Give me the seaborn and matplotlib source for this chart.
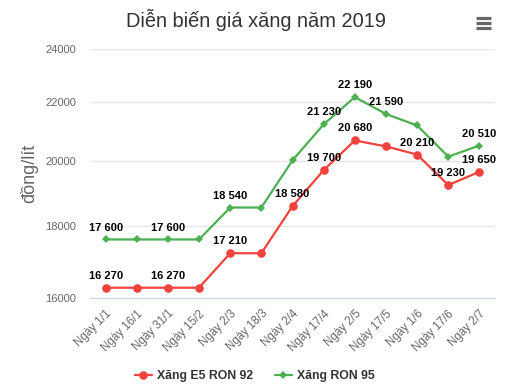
import numpy as np
import pandas as pd
import matplotlib
matplotlib.use("Agg")
import matplotlib.pyplot as plt
import seaborn as sns
from matplotlib.ticker import FixedLocator, FuncFormatter, NullLocator
from matplotlib.lines import Line2D

# --- data ---
dates = ["Ngày 1/1", "Ngày 16/1", "Ngày 31/1", "Ngày 15/2", "Ngày 2/3", "Ngày 18/3",
         "Ngày 2/4", "Ngày 17/4", "Ngày 2/5", "Ngày 17/5", "Ngày 1/6", "Ngày 17/6", "Ngày 2/7"]
e5_ron92 = [16270, 16270, 16270, 16270, 17210, 17210, 18580, 19700, 20680, 20480, 20210, 19230, 19650]
ron95 = [17600, 17600, 17600, 17600, 18540, 18540, 20020, 21230, 22190, 21590, 21190, 20140, 20510]
# which points carry a visible data label
e5_labelled = [0, 2, 4, 6, 7, 8, 10, 11, 12]
ron95_labelled = [0, 2, 4, 7, 8, 9, 12]

series_names = ["Xăng E5 RON 92", "Xăng RON 95"]
y_ticks = [16000, 18000, 20000, 22000, 24000]

colors = {series_names[0]: "#f2423c", series_names[1]: "#4caf50"}
markers = {series_names[0]: "o", series_names[1]: "D"}
msize = {series_names[0]: 6.2, series_names[1]: 4.3}

df = pd.DataFrame({
    "idx": list(range(len(dates))) * 2,
    "price": e5_ron92 + ron95,
    "series": [series_names[0]] * len(dates) + [series_names[1]] * len(dates),
})

sns.set_style("white")
plt.rcParams["font.family"] = ["Liberation Sans", "DejaVu Sans"]

fig = plt.figure(figsize=(5.11, 3.90), dpi=100)
ax = fig.add_axes([90 / 511, (390 - 298) / 390, (495 - 90) / 511, (298 - 49) / 390])

for name in series_names:
    sub = df[df["series"] == name]
    sns.lineplot(data=sub, x="idx", y="price", ax=ax, color=colors[name],
                 marker=markers[name], markersize=msize[name],
                 markeredgewidth=0, linewidth=1.6, label=name, legend=False)

ax.set_yscale("log")
ax.set_ylim(16000, 24000)
ax.set_xlim(-0.5, len(dates) - 0.5)
ax.yaxis.set_major_locator(FixedLocator(y_ticks))
ax.yaxis.set_minor_locator(NullLocator())
ax.yaxis.set_major_formatter(FuncFormatter(lambda v, p: f"{int(v)}"))
ax.grid(axis="y", color="#e6e6e6", linewidth=1)
ax.set_axisbelow(True)

ax.set_xticks(range(len(dates)))
ax.set_xticklabels(dates, rotation=45, ha="right", rotation_mode="anchor",
                   fontsize=8.3, color="#666666")
ax.tick_params(axis="x", which="major", length=0, pad=7)
ax.set_xticks(np.arange(-0.5, len(dates), 1.0), minor=True)
ax.tick_params(axis="x", which="minor", length=10, color="#ccd6eb", width=1)
ax.tick_params(axis="y", length=0, labelsize=8, labelcolor="#666666", pad=10)

for s in ["top", "right", "left"]:
    ax.spines[s].set_visible(False)
ax.spines["bottom"].set_color("#ccd6eb")

ax.set_xlabel("")
ax.set_ylabel("đồng/lít", fontsize=13, color="#666666", labelpad=5)

def fmt(v):
    return f"{v:,}".replace(",", " ")

for vals, idxs in [(e5_ron92, e5_labelled), (ron95, ron95_labelled)]:
    for i in idxs:
        ax.annotate(fmt(vals[i]), (i, vals[i]), xytext=(0, 5), textcoords="offset points",
                    ha="center", va="bottom", fontsize=8, fontweight="bold", color="#000000")

fig.text(0.5, 1 - 20 / 390, "Diễn biến giá xăng năm 2019", ha="center", va="center",
         fontsize=14.4, color="#333333")

# menu icon
for yy in [18, 23, 28]:
    fig.add_artist(Line2D([476 / 511, 491 / 511], [1 - yy / 390] * 2, color="#666666",
                          linewidth=2.3, solid_capstyle="butt"))

handles = [Line2D([0], [0], color=colors[n], marker=markers[n], linewidth=1.6,
                  markersize=msize[n], markeredgewidth=0)
           for n in series_names]
leg = fig.legend(handles, series_names, loc="center", bbox_to_anchor=(254.5 / 511, 1 - 376 / 390),
                 ncol=2, frameon=False, handlelength=1.4, handletextpad=0.4, columnspacing=1.8,
                 prop={"weight": "bold", "size": 8.8})
for t in leg.get_texts():
    t.set_color("#333333")

fig.savefig("out.png", dpi=100)
